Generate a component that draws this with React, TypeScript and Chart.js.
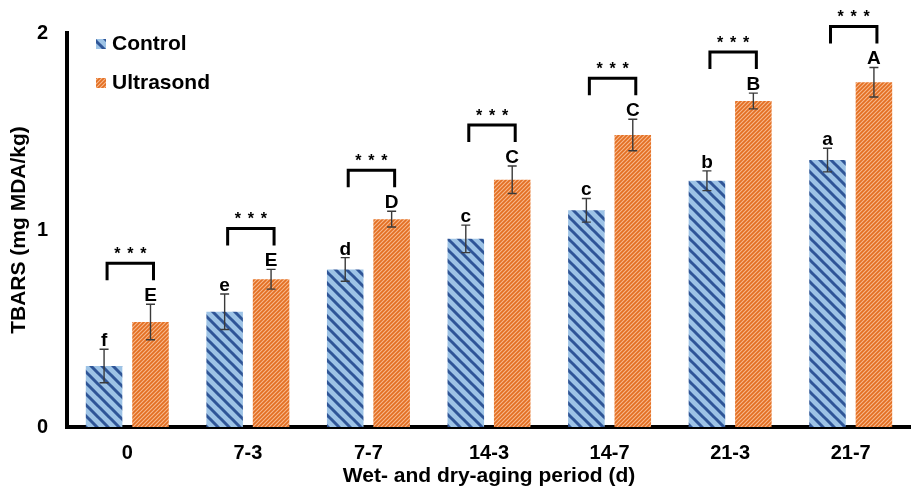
import React, { useEffect, useRef } from 'react';
import { Chart, registerables } from 'chart.js';

Chart.register(...registerables);

const categories = ['0', '7-3', '7-7', '14-3', '14-7', '21-3', '21-7'];
const seriesNames = ['Control', 'Ultrasond'];
const controlValues = [0.31, 0.585, 0.8, 0.955, 1.1, 1.25, 1.355];
const ultrasondValues = [0.533, 0.75, 1.055, 1.255, 1.482, 1.655, 1.75];
const controlErrors = [0.085, 0.09, 0.06, 0.07, 0.06, 0.05, 0.06];
const ultrasondErrors = [0.09, 0.05, 0.04, 0.07, 0.08, 0.04, 0.075];
const controlLetters = ['f', 'e', 'd', 'c', 'c', 'b', 'a'];
const ultrasondLetters = ['E', 'E', 'D', 'C', 'C', 'B', 'A'];
const significance = ['***', '***', '***', '***', '***', '***', '***'];
const yMin = 0;
const yMax = 2;
const yStep = 1;
const xTitle = 'Wet- and dry-aging period (d)';
const yTitle = 'TBARS (mg MDA/kg)';

const FONT = '"Liberation Sans", Arial, Helvetica, sans-serif';

function makeStripePattern(
  size: number,
  bg: string,
  fg: string,
  width: number,
  dir: 'back' | 'fwd'
): CanvasPattern | string {
  const c = document.createElement('canvas');
  c.width = size;
  c.height = size;
  const g = c.getContext('2d');
  if (!g) return bg;
  g.fillStyle = bg;
  g.fillRect(0, 0, size, size);
  g.strokeStyle = fg;
  g.lineWidth = width;
  g.beginPath();
  for (let k = -1; k <= 1; k++) {
    if (dir === 'back') {
      g.moveTo(k * size - 1, -1);
      g.lineTo(k * size + size + 1, size + 1);
    } else {
      g.moveTo(k * size - 1, size + 1);
      g.lineTo(k * size + size + 1, -1);
    }
  }
  g.stroke();
  const p = g.createPattern(c, 'repeat');
  return p || bg;
}

export default function App() {
  const ref = useRef<HTMLCanvasElement>(null);

  useEffect(() => {
    const canvas = ref.current;
    if (!canvas) return;

    const bluePattern = makeStripePattern(11, '#9DC3E6', '#2F5597', 3, 'back');
    const orangePattern = makeStripePattern(4, '#E36F22', '#F7B98E', 1.1, 'fwd');

    const annotationPlugin = {
      id: 'annotations',
      afterDatasetsDraw(chart: any) {
        const ctx = chart.ctx as CanvasRenderingContext2D;
        const y = chart.scales.y;
        const metaC = chart.getDatasetMeta(0);
        const metaU = chart.getDatasetMeta(1);
        ctx.save();
        const groups: [any, number[], number[], string[]][] = [
          [metaC, controlValues, controlErrors, controlLetters],
          [metaU, ultrasondValues, ultrasondErrors, ultrasondLetters],
        ];
        for (const [meta, vals, errs, letters] of groups) {
          for (let i = 0; i < vals.length; i++) {
            const bar = meta.data[i];
            const x = bar.x;
            const top = y.getPixelForValue(vals[i] + errs[i]);
            const bot = y.getPixelForValue(vals[i] - errs[i]);
            ctx.strokeStyle = '#3A3A3A';
            ctx.lineWidth = 1.4;
            ctx.beginPath();
            ctx.moveTo(x, top);
            ctx.lineTo(x, bot);
            ctx.moveTo(x - 4.5, top);
            ctx.lineTo(x + 4.5, top);
            ctx.moveTo(x - 4.5, bot);
            ctx.lineTo(x + 4.5, bot);
            ctx.stroke();
            ctx.fillStyle = '#000';
            ctx.font = `bold 19px ${FONT}`;
            ctx.textAlign = 'center';
            ctx.textBaseline = 'alphabetic';
            ctx.fillText(letters[i], x, top - 3);
          }
        }
        // significance brackets
        for (let i = 0; i < categories.length; i++) {
          const xl = metaC.data[i].x + 3;
          const xr = metaU.data[i].x + 3;
          const yb = y.getPixelForValue(ultrasondValues[i] + ultrasondErrors[i]) - 24;
          const yt = yb - 17;
          ctx.strokeStyle = '#000';
          ctx.lineWidth = 3;
          ctx.lineJoin = 'miter';
          ctx.beginPath();
          ctx.moveTo(xl, yb);
          ctx.lineTo(xl, yt);
          ctx.lineTo(xr, yt);
          ctx.lineTo(xr, yb);
          ctx.stroke();
          const mid = (xl + xr) / 2;
          ctx.fillStyle = '#000';
          ctx.font = `bold 16px ${FONT}`;
          ctx.textAlign = 'center';
          ctx.textBaseline = 'alphabetic';
          const stars = significance[i].split('');
          stars.forEach((s, k) => {
            ctx.fillText(s, mid + (k - (stars.length - 1) / 2) * 13, yt - 4);
          });
        }
        ctx.restore();
      },
      afterDraw(chart: any) {
        const ctx = chart.ctx as CanvasRenderingContext2D;
        const area = chart.chartArea;
        ctx.save();
        const items: [string, CanvasPattern | string][] = [
          [seriesNames[0], bluePattern],
          [seriesNames[1], orangePattern],
        ];
        items.forEach(([name, pat], k) => {
          const bx = area.left + 29;
          const by = area.top + 6 + k * 39;
          ctx.fillStyle = pat as any;
          ctx.fillRect(bx, by, 10, 10);
          ctx.fillStyle = '#000';
          ctx.font = `bold 21px ${FONT}`;
          ctx.textAlign = 'left';
          ctx.textBaseline = 'middle';
          ctx.fillText(name, bx + 16, by + 5);
        });
        ctx.restore();
      },
    };

    const chart = new Chart(canvas, {
      type: 'bar',
      data: {
        labels: categories,
        datasets: [
          {
            label: seriesNames[0],
            data: controlValues,
            backgroundColor: bluePattern as any,
            borderWidth: 0,
            categoryPercentage: 0.77,
            barPercentage: 0.787,
          },
          {
            label: seriesNames[1],
            data: ultrasondValues,
            backgroundColor: orangePattern as any,
            borderWidth: 0,
            categoryPercentage: 0.77,
            barPercentage: 0.787,
          },
        ],
      },
      options: {
        responsive: false,
        animation: false,
        devicePixelRatio: 1,
        layout: { padding: { top: 33, right: -11, left: 0, bottom: 0 } },
        plugins: {
          legend: { display: false },
          tooltip: { enabled: false },
        },
        scales: {
          x: {
            grid: { display: false, drawTicks: false },
            border: { display: true, color: '#000', width: 4 },
            ticks: {
              color: '#000',
              font: { family: FONT, size: 20, weight: 'bold' },
              padding: 14,
              maxRotation: 0,
            },
            title: {
              display: true,
              text: xTitle,
              color: '#000',
              font: { family: FONT, size: 21, weight: 'bold' },
              padding: { top: 0, bottom: 4 },
            },
            afterFit(scale: any) {
              scale.height = 66;
            },
          },
          y: {
            min: yMin,
            max: yMax,
            grid: { display: false, drawTicks: false },
            border: { display: true, color: '#000', width: 4 },
            ticks: {
              stepSize: yStep,
              color: '#000',
              font: { family: FONT, size: 20, weight: 'bold' },
              padding: 19,
            },
            title: {
              display: true,
              text: yTitle,
              color: '#000',
              font: { family: FONT, size: 21, weight: 'bold' },
              padding: { top: 7, bottom: 0 },
            },
            afterFit(scale: any) {
              scale.width = 67;
            },
          },
        },
      },
      plugins: [annotationPlugin],
    });

    return () => chart.destroy();
  }, []);

  return (
    <div
      style={{
        position: 'fixed',
        left: 0,
        top: 0,
        width: 911,
        height: 493,
        overflow: 'hidden',
        background: '#fff',
      }}
    >
      <canvas ref={ref} width={911} height={493} style={{ display: 'block', width: 911, height: 493 }} />
    </div>
  );
}
